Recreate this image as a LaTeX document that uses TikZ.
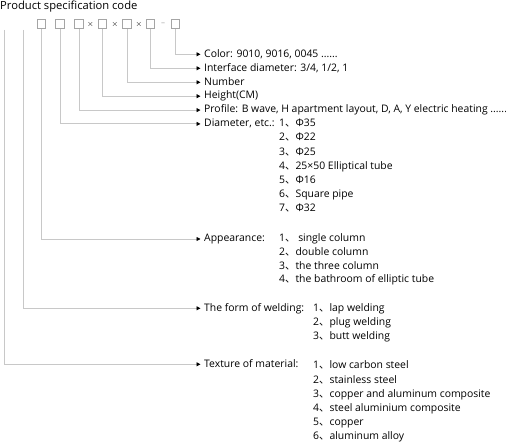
\documentclass[tikz,border=0pt]{standalone}
\usepackage{fontspec}
\setmainfont{Open Sans}
\newfontfamily\cjk{Noto Sans CJK SC}
\usetikzlibrary{arrows.meta}
\definecolor{linegray}{RGB}{200,200,200}
\definecolor{boxgray}{RGB}{165,165,165}
\newcommand{\dun}{{\cjk 、}}
\tikzset{
  codebox/.style={draw=boxgray, line width=0.7pt, minimum width=8.5pt, minimum height=9.5pt, inner sep=0pt},
  sym/.style={inner sep=0pt, font=\fontsize{8}{9}\selectfont},
  lab/.style={anchor=west, inner sep=0pt, text height=8pt, text depth=2.5pt, font=\fontsize{10.4}{12}\selectfont},
  conn/.style={draw=linegray, line width=0.8pt, -{Triangle[length=4pt,width=4pt,color=black]}, shorten >=3.5pt},
}
\begin{document}
\begin{tikzpicture}[x=1pt,y=-1pt]
\useasboundingbox (0,0) rectangle (506,443);
\node[anchor=north west, inner sep=0pt, font=\fontsize{11.2}{13}\selectfont] (title) at (0,0.8) {Product specification code};
% code boxes
\node[codebox] (b1) at (41.5,24) {};
\node[codebox] (b2) at (60,24) {};
\node[codebox] (b3) at (79,24) {};
\node[sym] (x1) at (90.5,24.5) {$\times$};
\node[codebox] (b4) at (102.5,24) {};
\node[sym] (x2) at (115,24.5) {$\times$};
\node[codebox] (b5) at (127,24) {};
\node[sym] (x3) at (139,24.5) {$\times$};
\node[codebox] (b6) at (150.5,24) {};
\node[sym, text=boxgray] (dash) at (163,24) {--};
\node[codebox] (b7) at (175.5,24) {};
\coordinate (s1) at (4,30);
\coordinate (s2) at (23,30);
% labels
\node[lab] (lcolor) at (204,54.3) {Color: 9010, 9016, 0045 ......};
\node[lab] (linter) at (204,68.3) {Interface diameter: 3/4, 1/2, 1};
\node[lab] (lnum) at (204,82.3) {Number};
\node[lab] (lheight) at (204,96.2) {Height(CM)};
\node[lab] (lprof) at (204,110.1) {Profile: B wave, H apartment layout, D, A, Y electric heating ......};
\node[lab] (ldiam) at (204,123.9) {Diameter, etc.:};
\node[lab] (lapp) at (204,239) {Appearance:};
\node[lab] (lweld) at (204,308.3) {The form of welding:};
\node[lab] (ltex) at (204,364.3) {Texture of material:};
% diameter items
\node[lab] (d1) at (279,123.9) {1\dun Φ35};
\node[lab] (d2) at (279,138.1) {2\dun Φ22};
\node[lab] (d3) at (279,152.3) {3\dun Φ25};
\node[lab] (d4) at (279,166.5) {4\dun 25×50 Elliptical tube};
\node[lab] (d5) at (279,180.7) {5\dun Φ16};
\node[lab] (d6) at (279,194.9) {6\dun Square pipe};
\node[lab] (d7) at (279,209.1) {7\dun Φ32};
% appearance items
\node[lab] (a1) at (279,239) {1\dun\ single column};
\node[lab] (a2) at (279,252.8) {2\dun double column};
\node[lab] (a3) at (279,266.4) {3\dun the three column};
\node[lab] (a4) at (279,280.2) {4\dun the bathroom of elliptic tube};
% welding items
\node[lab] (w1) at (313,308.3) {1\dun lap welding};
\node[lab] (w2) at (313,322.3) {2\dun plug welding};
\node[lab] (w3) at (313,336.3) {3\dun butt welding};
% texture items
\node[lab] (t1) at (313,366.2) {1\dun low carbon steel};
\node[lab] (t2) at (313,380.3) {2\dun stainless steel};
\node[lab] (t3) at (313,394.4) {3\dun copper and aluminum composite};
\node[lab] (t4) at (313,408.5) {4\dun steel aluminium composite};
\node[lab] (t5) at (313,422.6) {5\dun copper};
\node[lab] (t6) at (313,436.7) {6\dun aluminum alloy};
% connectors
\draw[conn] (b7.south) |- (lcolor.west);
\draw[conn] (b6.south) |- (linter.west);
\draw[conn] (b5.south) |- (lnum.west);
\draw[conn] (b4.south) |- (lheight.west);
\draw[conn] (b3.south) |- (lprof.west);
\draw[conn] (b2.south) |- (ldiam.west);
\draw[conn] (b1.south) |- (lapp.west);
\draw[conn] (s2) |- (lweld.west);
\draw[conn] (s1) |- (ltex.west);
\end{tikzpicture}
\end{document}
